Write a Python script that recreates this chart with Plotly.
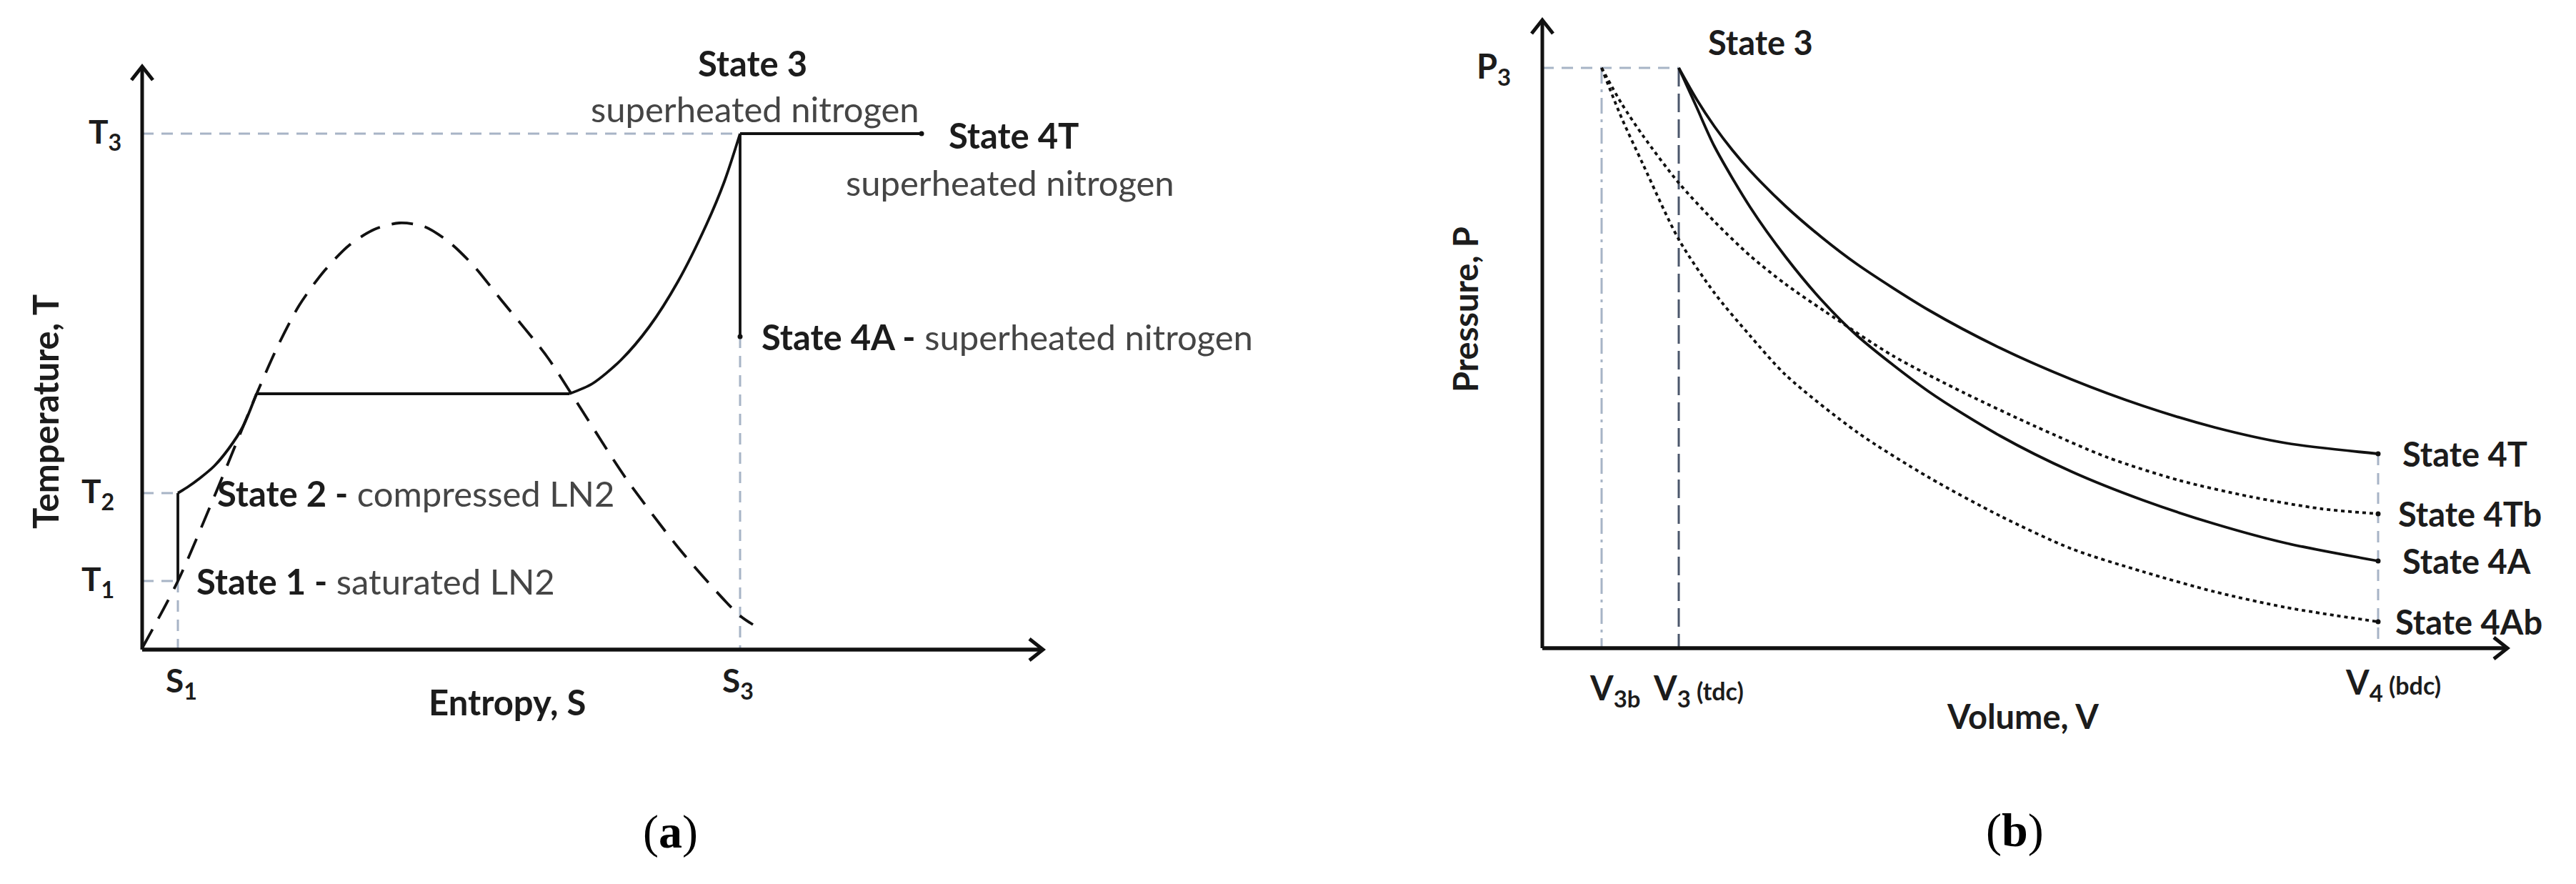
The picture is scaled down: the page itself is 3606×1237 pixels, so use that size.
import plotly.graph_objects as go

# ---------------- Panel (a): T-S diagram (schematic units) ----------------
S1, S3, S4T = 0.50, 8.37, 10.91
T1, T2, T3, T4A = 0.96, 2.19, 7.22, 4.38
T_plateau = 3.58
S_plateau = [1.60, 5.98]

liq_S = [0.50, 0.63, 0.81, 1.01, 1.21, 1.41, 1.60]
liq_T = [2.19, 2.27, 2.40, 2.57, 2.81, 3.12, 3.58]

vap_S = [5.98, 6.30, 6.70, 7.10, 7.50, 7.90, 8.15, 8.37]
vap_T = [3.58, 3.72, 4.05, 4.52, 5.15, 5.95, 6.55, 7.22]

dome_S = [0.00, 0.50, 1.03, 1.62, 1.90, 2.20, 2.55, 2.90, 3.25, 3.60, 3.95, 4.30, 4.65, 5.02, 5.66, 6.06, 6.77, 7.56, 8.35, 8.55]
dome_T = [0.02, 0.96, 2.19, 3.62, 4.25, 4.82, 5.30, 5.66, 5.88, 5.97, 5.92, 5.70, 5.36, 4.90, 4.11, 3.50, 2.40, 1.36, 0.49, 0.35]

S_axis_end, T_axis_end = 12.61, 8.16

# ---------------- Panel (b): P-V diagram (schematic units) ----------------
V3b, V3, V4 = 0.83, 1.91, 11.70
P3 = 8.12

V_4T = [1.91, 2.16, 2.41, 2.66, 2.91, 3.41, 3.91, 4.41, 5.41, 6.41, 7.41, 8.41, 9.41, 10.41, 11.70]
P_4T = [8.12, 7.68, 7.30, 6.97, 6.68, 6.18, 5.75, 5.37, 4.73, 4.20, 3.76, 3.39, 3.09, 2.87, 2.72]

V_4A = [1.91, 2.16, 2.41, 2.91, 3.41, 3.91, 4.41, 5.41, 6.41, 7.41, 8.41, 9.41, 10.41, 11.70]
P_4A = [8.12, 7.57, 7.02, 6.17, 5.47, 4.87, 4.37, 3.59, 2.97, 2.47, 2.07, 1.74, 1.47, 1.22]

V_4Tb = [0.83, 1.11, 1.41, 1.91, 2.41, 2.91, 3.41, 3.96, 4.91, 5.91, 6.91, 7.91, 8.91, 9.91, 10.91, 11.70]
P_4Tb = [8.12, 7.62, 7.17, 6.51, 5.97, 5.49, 5.09, 4.71, 4.09, 3.57, 3.10, 2.67, 2.35, 2.12, 1.95, 1.88]

V_4Ab = [0.83, 1.11, 1.41, 1.91, 2.41, 2.91, 3.41, 4.41, 5.41, 6.41, 7.41, 8.41, 9.41, 10.41, 11.70]
P_4Ab = [8.12, 7.42, 6.77, 5.72, 4.97, 4.37, 3.82, 3.02, 2.39, 1.85, 1.39, 1.07, 0.79, 0.57, 0.37]

V_axis_end, P_axis_end = 13.51, 8.79

# ---------------- styles ----------------
BLACK = "#111111"
GUIDE = "#a7b4c6"
GUIDE_DARK = "#4b566b"
FONT = "Lato"
FSA = 49   # panel (a) labels
FSB = 47   # panel (b) labels

fig = go.Figure()


def line(x, y, xa, ya, color=BLACK, width=3.8, dash="solid", shape="linear"):
    fig.add_trace(go.Scatter(x=x, y=y, mode="lines", xaxis=xa, yaxis=ya,
                             line=dict(color=color, width=width, dash=dash, shape=shape,
                                       smoothing=0.8),
                             hoverinfo="skip", showlegend=False))


def dots(x, y, xa, ya):
    fig.add_trace(go.Scatter(x=x, y=y, mode="markers", xaxis=xa, yaxis=ya,
                             marker=dict(color=BLACK, size=7),
                             hoverinfo="skip", showlegend=False))


def axes_with_arrows(xend, yend, xa, ya):
    line([0, 0], [0, yend], xa, ya, width=5)
    line([0, xend], [0, 0], xa, ya, width=5.5)
    ah, aw = 0.19, 0.15
    line([-aw, 0, aw], [yend - ah, yend, yend - ah], xa, ya, width=5)
    line([xend - ah, xend, xend - ah], [aw, 0, -aw], xa, ya, width=5)


# ----- Panel (a) -----
xa, ya = "x", "y"
line([0, S3], [T3, T3], xa, ya, GUIDE, 3, "16px,11px")
line([0, S1], [T2, T2], xa, ya, GUIDE, 3, "16px,11px")
line([0, S1], [T1, T1], xa, ya, GUIDE, 3, "16px,11px")
line([S1, S1], [T1, 0], xa, ya, GUIDE, 3, "16px,11px")
line([S3, S3], [T4A, 0], xa, ya, GUIDE, 3, "16px,11px")
line(dome_S, dome_T, xa, ya, BLACK, 3.8, "30px,17px", "spline")
line([S1, S1], [T1, T2], xa, ya, BLACK, 3.8)
line(liq_S, liq_T, xa, ya, BLACK, 3.8, shape="spline")
line(S_plateau, [T_plateau, T_plateau], xa, ya, BLACK, 3.8)
line(vap_S, vap_T, xa, ya, BLACK, 3.8, shape="spline")
line([S3, S4T], [T3, T3], xa, ya, BLACK, 3.8)
line([S3, S3], [T3, T4A], xa, ya, BLACK, 3.8)
dots([S4T, S3], [T3, T4A], xa, ya)
axes_with_arrows(S_axis_end, T_axis_end, xa, ya)

# ----- Panel (b) -----
xb, yb = "x2", "y2"
line([0, V3], [P3, P3], xb, yb, GUIDE, 3, "16px,11px")
line([V3b, V3b], [P3, 0], xb, yb, GUIDE, 3, "22px,8px,4px,8px")
line([V3, V3], [P3, 0], xb, yb, GUIDE_DARK, 3, "26px,10px")
line([V4, V4], [P_4T[-1], 0], xb, yb, GUIDE, 3, "16px,11px")
line(V_4T, P_4T, xb, yb, BLACK, 3.8, shape="spline")
line(V_4A, P_4A, xb, yb, BLACK, 3.8, shape="spline")
line(V_4Tb, P_4Tb, xb, yb, BLACK, 3.8, "5px,5px", "spline")
line(V_4Ab, P_4Ab, xb, yb, BLACK, 3.8, "5px,5px", "spline")
dots([V4, V4, V4, V4], [P_4T[-1], P_4Tb[-1], P_4A[-1], P_4Ab[-1]], xb, yb)
axes_with_arrows(V_axis_end, P_axis_end, xb, yb)

# ---------------- annotations ----------------
ann = []


def text(x, y, s, xref, yref, xanchor="center", size=FSA, angle=0, color="#1c1c1c", family=FONT):
    ann.append(dict(x=x, y=y, xref=xref, yref=yref, text=s, showarrow=False,
                    xanchor=xanchor, yanchor="middle", textangle=angle,
                    font=dict(family=family, size=size, color=color)))


G = "#454545"
# panel (a)
text(-0.52, T3, "<b>T<sub>3</sub></b>", "x", "y", size=46)
text(-0.62, T2, "<b>T<sub>2</sub></b>", "x", "y", size=46)
text(-0.62, T1, "<b>T<sub>1</sub></b>", "x", "y", size=46)
text(-1.36, 3.33, "<b>Temperature, T</b>", "x", "y", angle=-90)
text(S1 + 0.05, -0.46, "<b>S<sub>1</sub></b>", "x", "y", size=46)
text(S3 - 0.03, -0.46, "<b>S<sub>3</sub></b>", "x", "y", size=46)
text(5.11, -0.73, "<b>Entropy, S</b>", "x", "y")
text(8.54, 8.21, "<b>State 3</b>", "x", "y")
text(8.58, 7.57, "superheated nitrogen", "x", "y", color=G)
text(11.27, 7.20, "<b>State 4T</b>", "x", "y", xanchor="left")
text(9.83, 6.54, "superheated nitrogen", "x", "y", xanchor="left", color=G)
text(8.65, T4A, "<b>State 4A -</b> <span style='color:%s'>superheated nitrogen</span>" % G, "x", "y", xanchor="left")
text(1.03, T2, "<b>State 2 -</b> <span style='color:%s'>compressed LN2</span>" % G, "x", "y", xanchor="left")
text(0.74, T1, "<b>State 1 -</b> <span style='color:%s'>saturated LN2</span>" % G, "x", "y", xanchor="left")
text(7.39, -2.55, "(<b>a</b>)", "x", "y", size=66, color="#000000", family="Liberation Serif")

# panel (b)
text(-0.68, P3, "<b>P<sub>3</sub></b>", "x2", "y2", size=FSB)
text(-1.08, 4.74, "<b>Pressure, P</b>", "x2", "y2", angle=-90, size=FSB)
text(2.30, 8.48, "<b>State 3</b>", "x2", "y2", xanchor="left", size=FSB)
text(0.64, -0.58, "<b>V<sub>3b</sub></b>", "x2", "y2", xanchor="left", size=FSB)
text(1.53, -0.58, "<b>V<sub>3</sub></b><span style='font-size:34px'><b> (tdc)</b></span>", "x2", "y2", xanchor="left", size=FSB)
text(6.72, -0.95, "<b>Volume, V</b>", "x2", "y2", size=FSB)
text(11.22, -0.50, "<b>V<sub>4</sub></b><span style='font-size:34px'><b> (bdc)</b></span>", "x2", "y2", xanchor="left", size=FSB)
text(12.02, P_4T[-1], "<b>State 4T</b>", "x2", "y2", xanchor="left", size=FSB)
text(11.96, P_4Tb[-1], "<b>State 4Tb</b>", "x2", "y2", xanchor="left", size=FSB)
text(12.02, P_4A[-1], "<b>State 4A</b>", "x2", "y2", xanchor="left", size=FSB)
text(11.92, P_4Ab[-1], "<b>State 4Ab</b>", "x2", "y2", xanchor="left", size=FSB)
text(6.61, -2.55, "(<b>b</b>)", "x2", "y2", size=66, color="#000000", family="Liberation Serif")

hidden = dict(visible=False, showgrid=False, zeroline=False, fixedrange=True)
fig.update_layout(
    width=3606, height=1237,
    margin=dict(l=0, r=0, t=0, b=0),
    paper_bgcolor="white", plot_bgcolor="white",
    showlegend=False,
    xaxis=dict(domain=[0, 0.5], range=[-1.99, 16.04], anchor="y", **hidden),
    yaxis=dict(domain=[0, 1], range=[-3.28, 9.09], anchor="x", **hidden),
    xaxis2=dict(domain=[0.5, 1], range=[-3.56, 14.47], anchor="y2", **hidden),
    yaxis2=dict(domain=[0, 1], range=[-3.30, 9.07], anchor="x2", **hidden),
    annotations=ann,
    font=dict(family=FONT, size=FSA),
)

fig.write_html("out.html", config={"displayModeBar": False},
               post_script="document.body.style.margin='0';")
